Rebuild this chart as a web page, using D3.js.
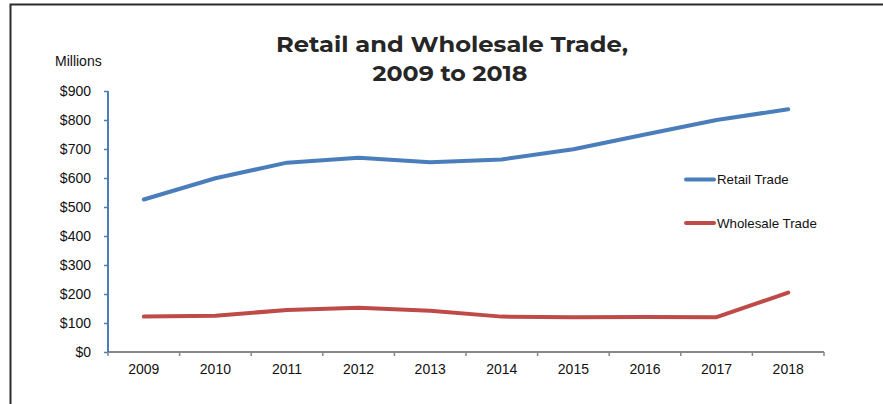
<!DOCTYPE html>
<html>
<head>
<meta charset="utf-8">
<script src="https://cdn.jsdelivr.net/npm/d3@7"></script>
<style>
  html, body { margin: 0; padding: 0; background: #fff; }
  svg { display: block; }
</style>
</head>
<body>
<svg id="chart" width="883" height="404"></svg>
<script>
const years = ["2009","2010","2011","2012","2013","2014","2015","2016","2017","2018"];
const retail = [526, 599, 653, 670, 654, 664, 699, 750, 800, 837];
const wholesale = [122, 125, 145, 153, 142, 122, 120, 121, 120, 205];
const yTicks = [0, 100, 200, 300, 400, 500, 600, 700, 800, 900];
const seriesNames = ["Retail Trade", "Wholesale Trade"];
const seriesColors = ["#4A7EBB", "#BE4B48"];

(function () {
const svg = d3.select("#chart");
const W = 883, H = 404;
const pL = 108, pR = 824, pT = 91, pB = 352;

// outer frame
svg.append("path")
  .attr("d", `M10.5,${H+5} L10.5,4.5 L${W+5},4.5`)
  .attr("fill", "none").attr("stroke", "#2b2b2b").attr("stroke-width", 2);

// title
const title = svg.append("text")
  .attr("text-anchor", "middle")
  .attr("font-family", "Montserrat, 'Open Sans', sans-serif")
  .attr("font-weight", "bold")
  .attr("font-size", 21)
  .attr("fill", "#262626");
title.append("tspan").attr("x", 452).attr("y", 52).attr("textLength", 352).attr("lengthAdjust", "spacingAndGlyphs").text("Retail and Wholesale Trade,");
title.append("tspan").attr("x", 450).attr("y", 81).attr("textLength", 155).attr("lengthAdjust", "spacingAndGlyphs").text("2009 to 2018");

svg.append("text")
  .attr("x", 55).attr("y", 66)
  .attr("font-family", "'Liberation Sans', Arial, sans-serif")
  .attr("font-size", 14).attr("fill", "#111")
  .text("Millions");

const x = d3.scaleBand().domain(years).range([pL, pR]);
const y = d3.scaleLinear().domain([0, 900]).range([pB, pT]);

// x axis
const xAxis = svg.append("g")
  .attr("transform", `translate(0,${pB})`);
xAxis.append("path")
  .attr("d", `M${pL},0 H${pR}`)
  .attr("stroke", "#878787").attr("stroke-width", 2).attr("fill", "none");
const bounds = years.map(d => x(d)).concat([pR]);
xAxis.selectAll("line.tk").data(bounds).join("line")
  .attr("class", "tk")
  .attr("x1", d => d).attr("x2", d => d)
  .attr("y1", 0).attr("y2", 4)
  .attr("stroke", "#878787").attr("stroke-width", 1.5);
xAxis.selectAll("text").data(years).join("text")
  .attr("x", d => x(d) + x.bandwidth() / 2)
  .attr("y", 22)
  .attr("text-anchor", "middle")
  .attr("font-family", "'Liberation Sans', Arial, sans-serif")
  .attr("font-size", 14).attr("fill", "#111")
  .text(d => d);

// y axis
const yAxis = svg.append("g")
  .attr("transform", `translate(${pL},0)`)
  .call(d3.axisLeft(y).tickValues(yTicks).tickSize(4).tickPadding(13)
    .tickFormat(d => "$" + d));
yAxis.select(".domain").attr("stroke", "#4A7EBB").attr("stroke-width", 2)
  .attr("d", `M0,${pT} V${pB}`);
yAxis.selectAll(".tick line").attr("stroke", "#4A7EBB").attr("stroke-width", 1.5);
yAxis.selectAll(".tick text")
  .attr("font-family", "'Liberation Sans', Arial, sans-serif")
  .attr("font-size", 14).attr("fill", "#111");

// lines
const line = d3.line()
  .x((d, i) => x(years[i]) + x.bandwidth() / 2)
  .y(d => y(d));
[retail, wholesale].forEach((s, i) => {
  svg.append("path")
    .datum(s)
    .attr("d", line)
    .attr("fill", "none")
    .attr("stroke", seriesColors[i])
    .attr("stroke-width", 4)
    .attr("stroke-linejoin", "round")
    .attr("stroke-linecap", "round");
});

// legend
const legend = svg.append("g");
seriesNames.forEach((n, i) => {
  const ly = 179.5 + i * 43.5;
  legend.append("line")
    .attr("x1", 686).attr("x2", 714).attr("y1", ly).attr("y2", ly)
    .attr("stroke", seriesColors[i]).attr("stroke-width", 4)
    .attr("stroke-linecap", "round");
  legend.append("text")
    .attr("x", 717).attr("y", ly + 4.5)
    .attr("font-family", "'Liberation Sans', Arial, sans-serif")
    .attr("font-size", 13.3).attr("fill", "#111")
    .text(n);
});
})();
</script>
</body>
</html>
